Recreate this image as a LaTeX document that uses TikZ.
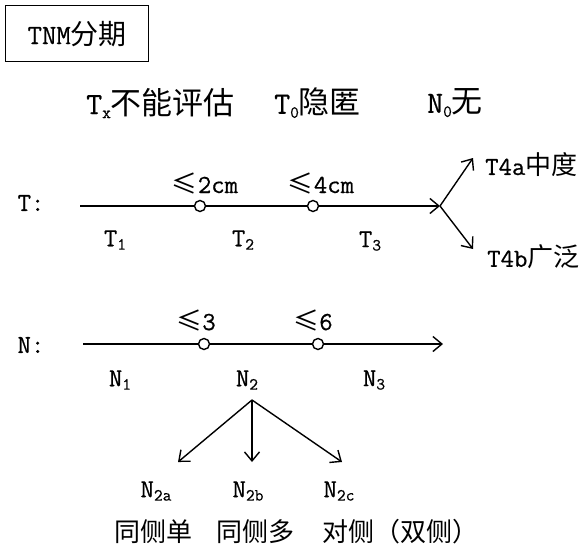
\documentclass[tikz,border=0pt]{standalone}
\usepackage{fontspec}
\newfontfamily\cjk{Noto Sans CJK SC}
\newfontfamily\lat[FakeBold=0.6]{Latin Modern Mono}
\usetikzlibrary{arrows.meta}
\newcommand\sbs[1]{\raisebox{-0.3ex}{\fontsize{17}{17}\selectfont #1}}
\tikzset{
  lbl/.style={inner sep=0pt, font=\fontsize{26}{26}\selectfont\lat},
  big/.style={inner sep=0pt, font=\fontsize{31}{31}\selectfont\lat},
  ln/.style={line width=1.4pt},
  arr/.style={line width=1.4pt, -{Straight Barb[length=9pt,width=15pt,line width=1.4pt]}},
  dot/.style={circle, draw, line width=1.4pt, fill=white, minimum size=11pt, inner sep=0pt},
}
\begin{document}
\begin{tikzpicture}[x=1pt,y=-1pt]
\useasboundingbox (0,0) rectangle (586,552);
% title box
\node[lbl, draw, line width=1.4pt, minimum width=143pt, minimum height=56pt, anchor=north west, font=\fontsize{28}{28}\selectfont\lat] (title) at (5,5) {TNM{\cjk 分期}};
% top row
\node[big, anchor=west] (tx) at (86,103) {T\sbs{x}{\cjk 不能评估}};
\node[big, anchor=west] (t0) at (274,103) {T\sbs{0}{\cjk 隐匿}};
\node[big, anchor=west] (n0) at (427,103) {N\sbs{0}{\cjk 无}};
% T line
\node[lbl] (tl) at (31,203) {T:};
\coordinate (ts) at (80,206);
\node[dot] (tc1) at (200,206) {};
\node[dot] (tc2) at (313,206) {};
\coordinate (tj) at (440,206);
\draw[ln] (ts) -- (tc1);
\draw[ln] (tc1) -- (tc2);
\draw[arr] (tc2) -- (tj);
\node[lbl] (le2) at (205,183) {{\cjk ≤}2cm};
\node[lbl] (le4) at (321,183) {{\cjk ≤}4cm};
\node[lbl] (t1) at (115,240) {T\sbs{1}};
\node[lbl] (t2) at (243,240) {T\sbs{2}};
\node[lbl] (t3) at (370,241) {T\sbs{3}};
\coordinate (t4at) at (473,158);
\coordinate (t4bt) at (473,249);
\draw[arr] (tj) -- (t4at);
\draw[arr] (tj) -- (t4bt);
\node[lbl, anchor=west] (t4a) at (485,165) {T4a{\cjk 中度}};
\node[lbl, anchor=west] (t4b) at (487,257) {T4b{\cjk 广泛}};
% N line
\node[lbl] (nl) at (31,345) {N:};
\coordinate (ns) at (83,344);
\node[dot] (nc1) at (204,344) {};
\node[dot] (nc2) at (318,344) {};
\coordinate (ne) at (443,344);
\draw[ln] (ns) -- (nc1);
\draw[ln] (nc1) -- (nc2);
\draw[arr] (nc2) -- (ne);
\node[lbl] (le3) at (196,320) {{\cjk ≤}3};
\node[lbl] (le6) at (313,320) {{\cjk ≤}6};
\node[lbl] (n1) at (120,380) {N\sbs{1}};
\node[lbl] (n2) at (247,380) {N\sbs{2}};
\node[lbl] (n3) at (374,380) {N\sbs{3}};
\coordinate (nb) at (252,400);
\coordinate (n2at) at (178,462);
\coordinate (n2bt) at (252,462);
\coordinate (n2ct) at (342,462);
\draw[arr] (nb) -- (n2at);
\draw[arr] (nb) -- (n2bt);
\draw[arr] (nb) -- (n2ct);
\node[lbl] (n2a) at (156,491) {N\sbs{2a}};
\node[lbl] (n2b) at (248,491) {N\sbs{2b}};
\node[lbl] (n2c) at (339,491) {N\sbs{2c}};
\node[lbl, anchor=west] (sa) at (114,532) {\cjk 同侧单};
\node[lbl, anchor=west] (sb) at (216,532) {\cjk 同侧多};
\node[lbl, anchor=west] (sc) at (322,532) {\cjk 对侧（双侧）};
\end{tikzpicture}
\end{document}
